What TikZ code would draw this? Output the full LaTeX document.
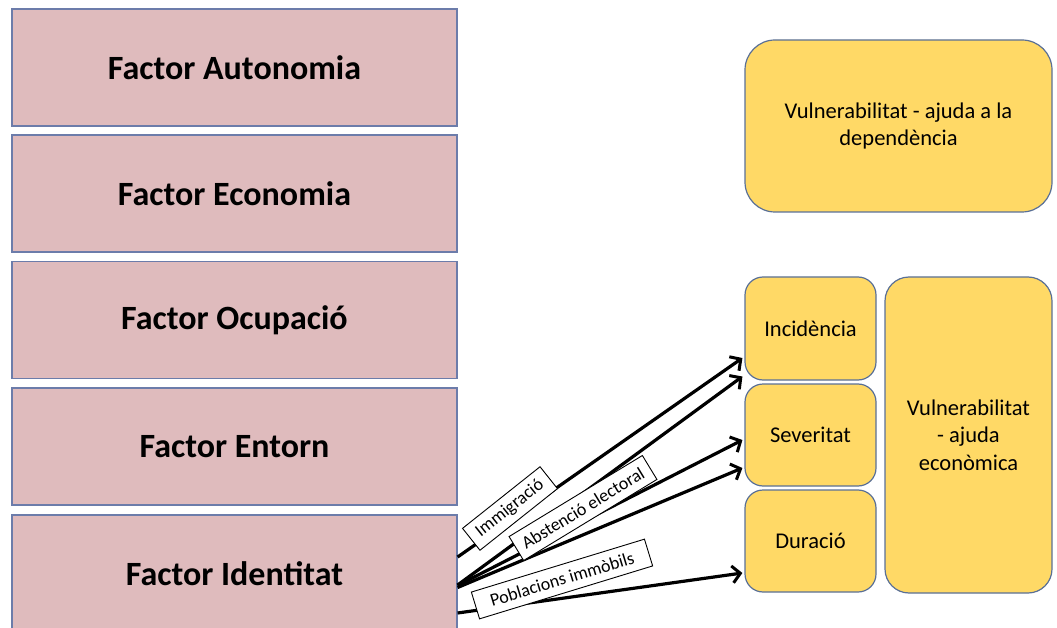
\documentclass[tikz,border=0pt]{standalone}
\usepackage{fontspec}
\setmainfont{Carlito}
\usetikzlibrary{arrows.meta,calc}
\definecolor{pinkfill}{RGB}{223,187,189}
\definecolor{boxedge}{RGB}{108,124,170}
\definecolor{yelfill}{RGB}{255,217,102}
\definecolor{yeledge}{RGB}{90,112,150}
\tikzset{
  factor/.style={draw=boxedge, line width=1.2pt, fill=pinkfill, minimum width=445pt, minimum height=117pt,
    inner sep=0pt, font=\fontsize{34}{40}\selectfont\bfseries},
  ybox/.style={draw=yeledge, line width=1.2pt, fill=yelfill, inner sep=0pt, align=center,
    font=\fontsize{22.5}{27.5}\selectfont},
  lbl/.style={draw=black, line width=0.9pt, fill=white, inner sep=0pt, minimum height=28pt,
    font=\fontsize{18}{21}\selectfont},
  conn/.style={line width=3.2pt, -{Straight Barb[length=8pt,width=17pt,line width=3pt]}}
}
\begin{document}
\begin{tikzpicture}[x=1pt,y=-1pt]
\useasboundingbox (0,0) rectangle (1057,628);
\clip (0,0) rectangle (1057,628);
% left factor boxes
\node[factor] (fau) at (234.5,67.5) {Factor Autonomia};
\node[factor] (fec) at (234.5,193.5) {Factor Economia};
\node[factor] (foc) at (234.5,320) {Factor Ocupació};
\node[factor] (fen) at (234.5,446.5) {Factor Entorn};
\node[factor] (fid) at (234.5,573.5) {Factor Identitat};
% right boxes
\node[ybox, rounded corners=30pt, minimum width=307pt, minimum height=172pt] (dep) at (898.5,126)
  {Vulnerabilitat - ajuda a la\\dependència};
\node[ybox, rounded corners=18pt, minimum width=131pt, minimum height=103pt] (inc) at (810.5,328.5) {Incidència};
\node[ybox, rounded corners=18pt, minimum width=131pt, minimum height=102pt] (sev) at (810.5,435) {Severitat};
\node[ybox, rounded corners=18pt, minimum width=131pt, minimum height=102pt] (dur) at (810.5,541) {Duració};
\node[ybox, rounded corners=24pt, minimum width=167pt, minimum height=316pt] (eco) at (968.5,435)
  {Vulnerabilitat\\- ajuda\\econòmica};
% connectors
\draw[conn] ($(fid.east)+(0,-16.5)$) -- ($(inc.west)+(-2,29.5)$);
\draw[conn] ($(fid.east)+(0,11.5)$) -- ($(inc.west)+(-2,48)$);
\draw[conn] ($(fid.east)+(0,12)$) -- ($(sev.west)+(-2,5)$);
\draw[conn] ($(fid.east)+(0,14)$) -- ($(sev.west)+(-2,33)$);
\draw[conn] ($(fid.east)+(0,39.5)$) -- ($(dur.west)+(-2,32)$);
% labels
\node[lbl, rotate=38.5, minimum width=99pt] (limm) at (510,508.5) {Immigració};
\node[lbl, rotate=31.3, minimum width=156pt] (labs) at (583,508) {Abstenció electoral};
\node[lbl, rotate=17, minimum width=181pt] (lpob) at (562,579) {Poblacions immòbils};
\end{tikzpicture}
\end{document}
